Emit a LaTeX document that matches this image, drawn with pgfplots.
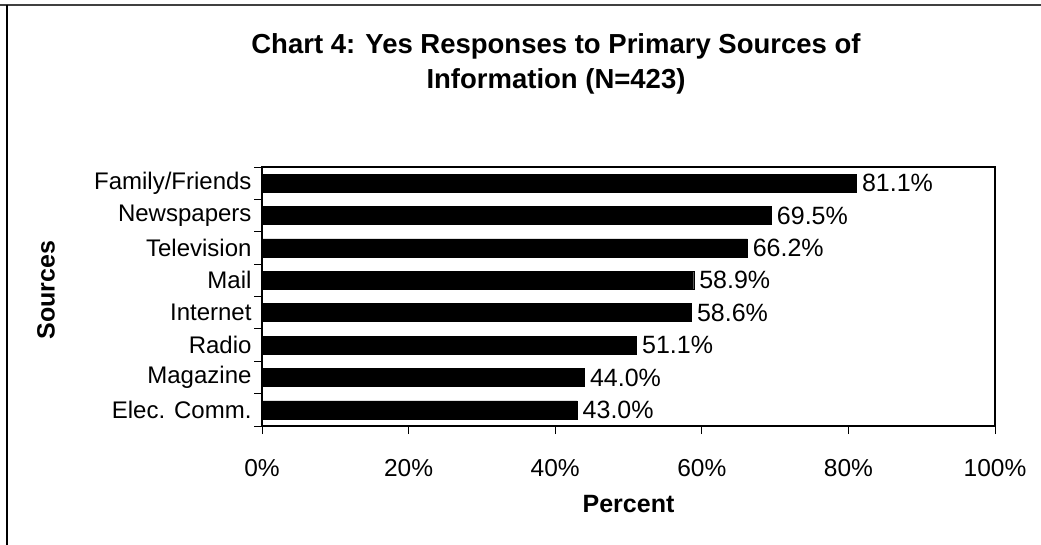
\documentclass[border=0pt]{standalone}
\usepackage{fontspec}
\setmainfont{Liberation Sans}
\usepackage{pgfplots}
\pgfplotsset{compat=1.18}
\begin{document}
\begin{tikzpicture}[x=1pt,y=1pt]
\useasboundingbox (0,0) rectangle (1041,-545);
% chart frame (top and left edges)
\draw[line width=1.6pt, black!75] (0,-5) -- (1041,-5);
\draw[line width=1.2pt, black] (7,-5) -- (7,-545);
% title
\node[align=center, font=\bfseries\fontsize{27.5}{35}\selectfont] at (556,-64)
  {Chart 4: Yes Responses to Primary Sources of\\Information (N=423)};
% vertical axis title
\node[rotate=90, font=\bfseries\fontsize{25}{30}\selectfont] at (46,-290) {Sources};
\begin{axis}[
  at={(262pt,-426pt)}, anchor=south west,
  scale only axis, width=733pt, height=259pt,
  xmin=0, xmax=100, ymin=-0.5, ymax=7.5, y dir=reverse,
  xbar, bar width=18pt,
  axis line style={line width=1.6pt},
  tick align=outside, major tick length=8pt,
  tick style={black, line width=0.9pt},
  xtick pos=bottom, ytick pos=left,
  xtick={0,20,40,60,80,100},
  xticklabels={0\%,20\%,40\%,60\%,80\%,100\%},
  xticklabel style={font=\fontsize{24.5}{28}\selectfont, yshift=-22pt},
  ytick={-0.5,0.5,...,7.5}, yticklabels={},
  extra y ticks={0,1,2,3,4,5,6,7},
  extra y tick labels={Family/Friends,Newspapers,Television,Mail,Internet,Radio,Magazine,Elec. Comm.},
  extra y tick style={tick style={draw=none}, yticklabel style={font=\fontsize{24}{28}\selectfont, xshift=1pt}},
  xlabel={\textbf{Percent}},
  xlabel style={font=\fontsize{25}{30}\selectfont, yshift=-12pt},
  /pgf/number format/assume math mode=true,
  nodes near coords={\pgfmathprintnumber[fixed, fixed zerofill, precision=1]{\pgfplotspointmeta}\%},
  nodes near coords style={font=\fontsize{25}{30}\selectfont, anchor=west, xshift=2pt},
  clip=false,
]
\addplot[fill=black, draw=black] coordinates {
  (81.1,0) (69.5,1) (66.2,2) (58.9,3) (58.6,4) (51.1,5) (44.0,6) (43.0,7)
};
\end{axis}
\end{tikzpicture}
\end{document}
